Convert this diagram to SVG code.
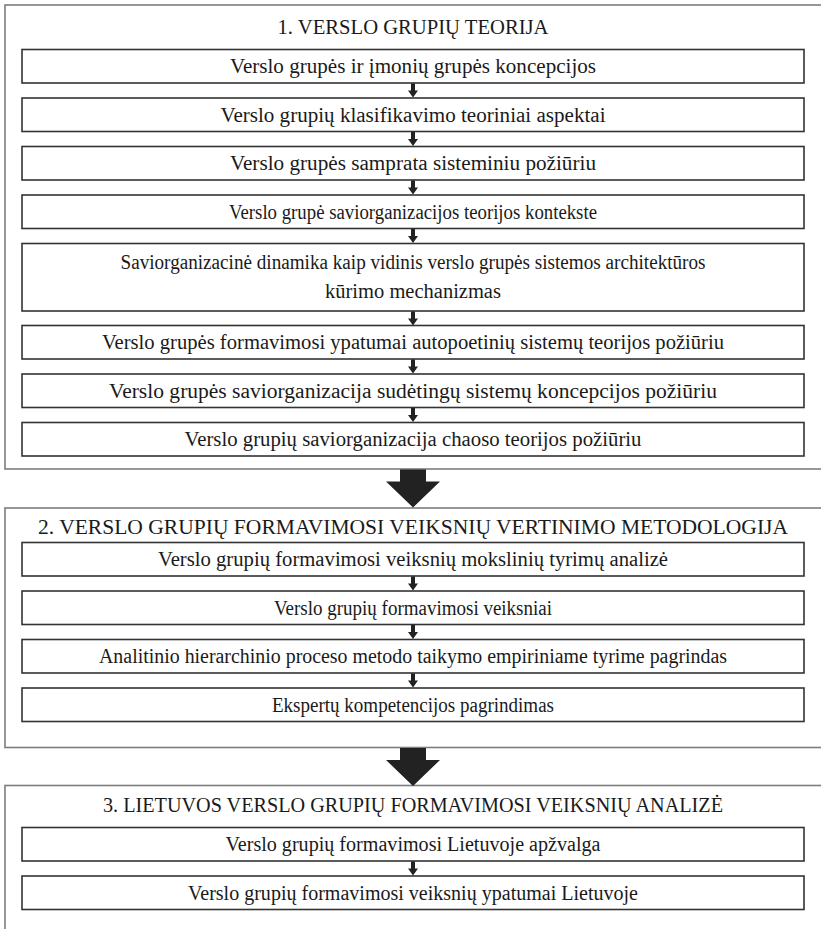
<svg xmlns="http://www.w3.org/2000/svg" width="821" height="929" viewBox="0 0 821 929">
<style>
.frame{fill:none;stroke:#7d7d7d;stroke-width:1.6}
.box{fill:#fff;stroke:#333;stroke-width:1.6}
text{font-family:"Liberation Serif","Times New Roman",serif;font-size:20.5px;fill:#1a1a1a;text-anchor:middle}
.arr{fill:#222}
</style>
<defs>
<path id="sa" d="M-2,0 H2 V7 H5 L0,14 L-5,7 H-2 Z"/>
<path id="ba" d="M-13,0 H13 V12 H27 L0,38 L-27,12 H-13 Z"/>
</defs>
<rect x="0" y="0" width="821" height="929" fill="#fff"/>

<g id="section1">
<rect class="frame" x="5" y="5" width="830" height="464"/>
<text x="413" y="34" textLength="271" lengthAdjust="spacingAndGlyphs">1. VERSLO GRUPIŲ TEORIJA</text>
</g>
<g id="n1"><rect class="box" x="22" y="49.5" width="782" height="33.5"/><text x="413" y="73" textLength="366" lengthAdjust="spacingAndGlyphs">Verslo grupės ir įmonių grupės koncepcijos</text></g>
<g id="n2"><rect class="box" x="22" y="98" width="782" height="33.5"/><text x="413" y="121.5" textLength="385" lengthAdjust="spacingAndGlyphs">Verslo grupių klasifikavimo teoriniai aspektai</text></g>
<g id="n3"><rect class="box" x="22" y="146.5" width="782" height="33.5"/><text x="413" y="170" textLength="366" lengthAdjust="spacingAndGlyphs">Verslo grupės samprata sisteminiu požiūriu</text></g>
<g id="n4"><rect class="box" x="22" y="195" width="782" height="33.5"/><text x="413" y="218.5" textLength="368" lengthAdjust="spacingAndGlyphs">Verslo grupė saviorganizacijos teorijos kontekste</text></g>
<g id="n5"><rect class="box" x="22" y="243.5" width="782" height="67.5"/><text x="413" y="269" textLength="585" lengthAdjust="spacingAndGlyphs">Saviorganizacinė dinamika kaip vidinis verslo grupės sistemos architektūros</text><text x="413" y="298">kūrimo mechanizmas</text></g>
<g id="n6"><rect class="box" x="22" y="325.5" width="782" height="33.5"/><text x="413" y="349" textLength="622" lengthAdjust="spacingAndGlyphs">Verslo grupės formavimosi ypatumai autopoetinių sistemų teorijos požiūriu</text></g>
<g id="n7"><rect class="box" x="22" y="374" width="782" height="33.5"/><text x="413" y="397.5" textLength="608" lengthAdjust="spacingAndGlyphs">Verslo grupės saviorganizacija sudėtingų sistemų koncepcijos požiūriu</text></g>
<g id="n8"><rect class="box" x="22" y="422.5" width="782" height="33.5"/><text x="413" y="446" textLength="457" lengthAdjust="spacingAndGlyphs">Verslo grupių saviorganizacija chaoso teorijos požiūriu</text></g>

<g id="section2">
<rect class="frame" x="5" y="508" width="830" height="239.5"/>
<text x="413" y="534" textLength="750" lengthAdjust="spacingAndGlyphs">2. VERSLO GRUPIŲ FORMAVIMOSI VEIKSNIŲ VERTINIMO METODOLOGIJA</text>
</g>
<g id="n9"><rect class="box" x="22" y="542.5" width="782" height="33.5"/><text x="413" y="566" textLength="510" lengthAdjust="spacingAndGlyphs">Verslo grupių formavimosi veiksnių mokslinių tyrimų analizė</text></g>
<g id="n10"><rect class="box" x="22" y="591" width="782" height="33.5"/><text x="413" y="614.5" textLength="278" lengthAdjust="spacingAndGlyphs">Verslo grupių formavimosi veiksniai</text></g>
<g id="n11"><rect class="box" x="22" y="639.5" width="782" height="33.5"/><text x="413" y="663" textLength="628" lengthAdjust="spacingAndGlyphs">Analitinio hierarchinio proceso metodo taikymo empiriniame tyrime pagrindas</text></g>
<g id="n12"><rect class="box" x="22" y="688" width="782" height="33.5"/><text x="413" y="711.5" textLength="282" lengthAdjust="spacingAndGlyphs">Ekspertų kompetencijos pagrindimas</text></g>

<g id="section3">
<rect class="frame" x="5" y="785.5" width="830" height="200"/>
<text x="413" y="812" textLength="620" lengthAdjust="spacingAndGlyphs">3. LIETUVOS VERSLO GRUPIŲ FORMAVIMOSI VEIKSNIŲ ANALIZĖ</text>
</g>
<g id="n13"><rect class="box" x="22" y="827.5" width="782" height="33.5"/><text x="413" y="851" textLength="375" lengthAdjust="spacingAndGlyphs">Verslo grupių formavimosi Lietuvoje apžvalga</text></g>
<g id="n14"><rect class="box" x="22" y="876" width="782" height="33.5"/><text x="413" y="899.5" textLength="450" lengthAdjust="spacingAndGlyphs">Verslo grupių formavimosi veiksnių ypatumai Lietuvoje</text></g>

<g id="connectors" class="arr">
<use href="#sa" x="413" y="83.5"/>
<use href="#sa" x="413" y="132"/>
<use href="#sa" x="413" y="180.5"/>
<use href="#sa" x="413" y="229"/>
<use href="#sa" x="413" y="311.5"/>
<use href="#sa" x="413" y="359.5"/>
<use href="#sa" x="413" y="408"/>
<use href="#ba" x="413" y="469.5"/>
<use href="#sa" x="413" y="576.5"/>
<use href="#sa" x="413" y="625"/>
<use href="#sa" x="413" y="673.5"/>
<use href="#ba" x="413" y="748"/>
<use href="#sa" x="413" y="861.5"/>
</g>
</svg>
